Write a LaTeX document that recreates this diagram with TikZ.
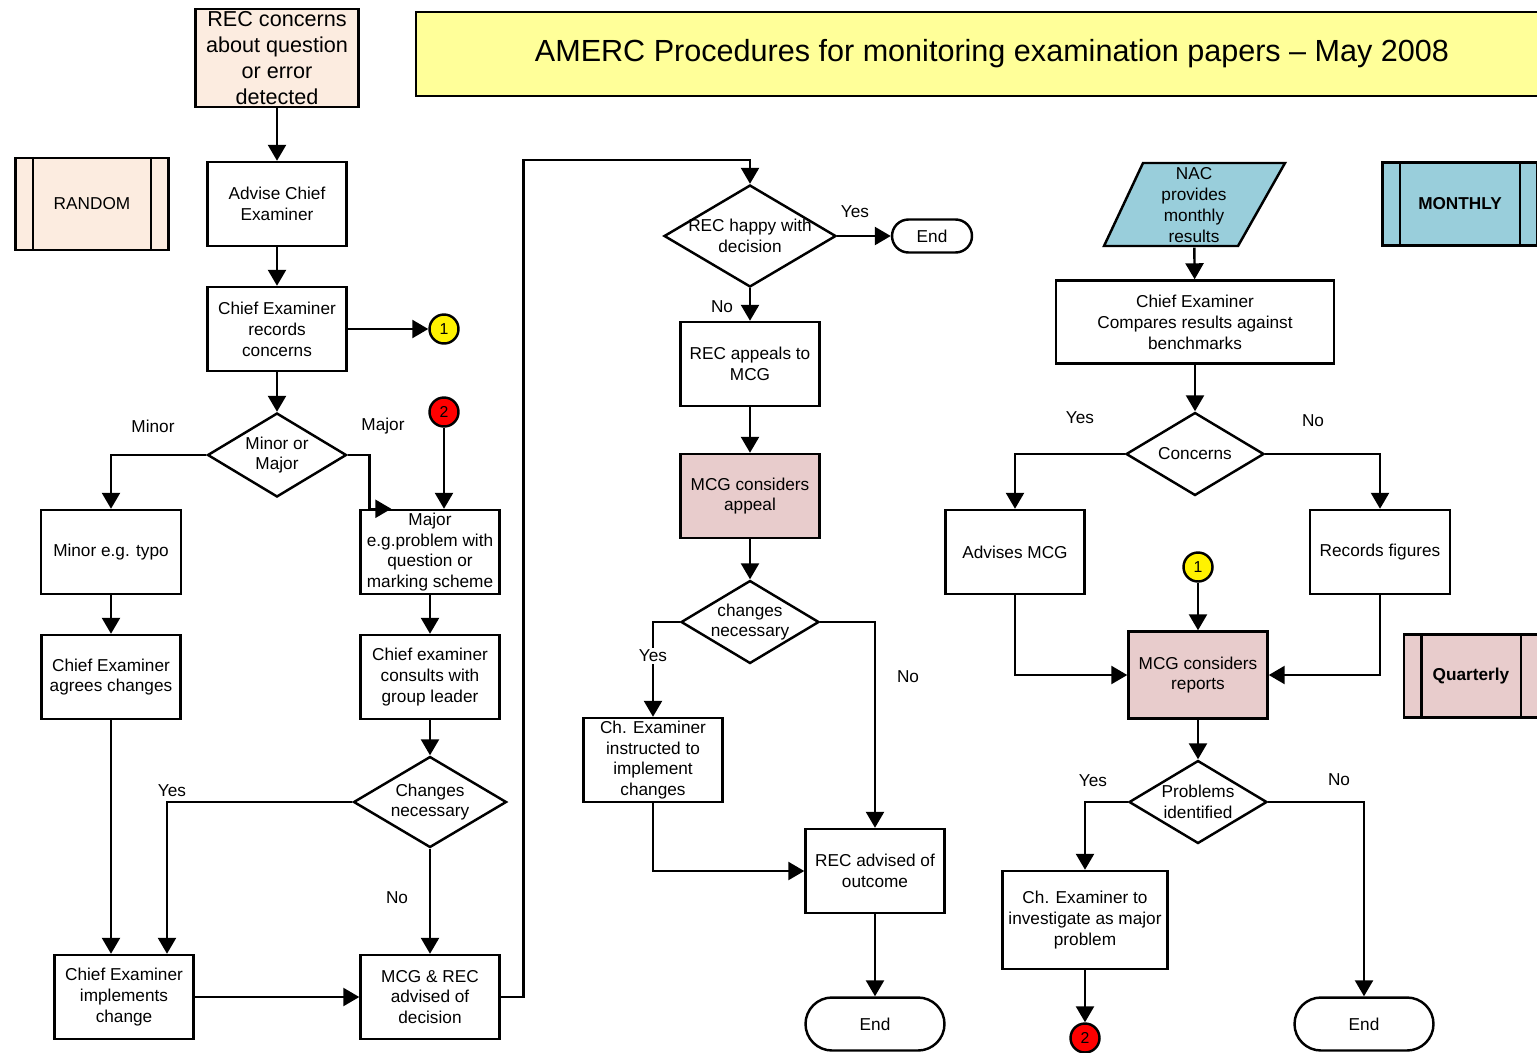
\documentclass[tikz,border=0pt]{standalone}
\usepackage{fontspec}
\setmainfont{Liberation Sans}
\usetikzlibrary{shapes.geometric,arrows.meta}
\definecolor{peach}{RGB}{252,236,224}
\definecolor{titleyellow}{RGB}{255,255,153}
\definecolor{mcgpink}{RGB}{232,204,204}
\definecolor{nacblue}{RGB}{153,206,219}
\begin{document}
\fontsize{9.8}{11.9}\selectfont
\begin{tikzpicture}[x=0.02cm,y=-0.02cm,line width=1.4pt,
    box/.style={draw,rectangle,align=center,inner sep=0pt,minimum width=2.78cm,minimum height=1.68cm},
    dec/.style={draw,diamond,inner sep=0pt,minimum width=2.76cm,minimum height=1.66cm},
    term/.style={draw,rectangle,rounded corners=0.53cm,minimum width=2.78cm,minimum height=1.06cm},
    conn/.style={draw,circle,inner sep=0pt,minimum size=0.58cm,font=\fontsize{9}{10}\selectfont},
    tag/.style={draw,rectangle,minimum width=3.06cm,minimum height=1.66cm},
    arr/.style={-{Triangle[length=0.32cm,width=0.36cm]}},
    lbl/.style={inner sep=1pt}]
    \clip (0,0) rectangle (1537,1052);

    % Title
    \node[box,fill=titleyellow,minimum width=23.04cm,font=\fontsize{17.4}{20}\selectfont] (title) at (992,54) {AMERC Procedures for monitoring examination papers – May 2008};

    % Random checks (left)
    \node[tag,fill=peach,minimum height=1.84cm] (random) at (92,204) {RANDOM};
    \node[box,fill=peach,minimum width=3.26cm,minimum height=1.96cm,font=\fontsize{12.3}{14.8}\selectfont] (rec) at (277,58) {REC concerns\\about question\\or error\\detected};
    \node[box] (advise) at (277,204) {Advise Chief\\Examiner};
    \node[box] (records) at (277,329) {Chief Examiner\\records\\concerns};
    \node[conn,fill=yellow] (one) at (444,329) {1};
    \node[dec,minimum width=2.78cm,minimum height=1.68cm,label={[align=center]center:Minor or\\Major}] (minmaj) at (277,455) {};
    \node[lbl] (minorlbl) at (153,426) {Minor};
    \node[lbl] (majorlbl) at (383,426) {Major};
    \node[conn,fill=red] (two) at (444,412) {2};
    \node[box,minimum width=2.8cm] (typo) at (111,552) {Minor e.g. typo};
    \node[box] (major) at (430,552) {Major\\e.g.problem with\\question or\\marking scheme};
    \node[box] (agrees) at (111,677) {Chief Examiner\\agrees changes};
    \node[box] (consults) at (430,677) {Chief examiner\\consults with\\group leader};
    \node[dec,minimum width=3.06cm,minimum height=1.82cm,label={[align=center]center:Changes\\necessary}] (chnec) at (430,802) {};
    \node[lbl] (yeslbl) at (172,791) {Yes};
    \node[lbl] (nolbl) at (397,898) {No};
    \node[box] (implements) at (124,997) {Chief Examiner\\implements\\change};
    \node[box] (advised) at (430,997) {MCG \& REC\\advised of\\decision};

    % Appeal (middle)
    \node[dec,minimum width=3.44cm,minimum height=2.04cm,label={[align=center]center:REC happy with\\decision}] (happy) at (750,236) {};
    \node[term,minimum width=1.6cm,minimum height=0.66cm,rounded corners=0.33cm] (end1) at (932,236) {End};
    \node[lbl] (yes2) at (855,212) {Yes};
    \node[lbl] (no2) at (722,307) {No};
    \node[box] (appeals) at (750,364) {REC appeals to\\MCG};
    \node[box,fill=mcgpink] (appeal) at (750,496) {MCG considers\\appeal};
    \node[dec,label={[align=center]center:changes\\necessary}] (chnec2) at (750,622) {};
    \node[box] (instructed) at (653,760) {Ch. Examiner\\instructed to\\implement\\changes};
    \node[lbl] (no3) at (908,677) {No};
    \node[box] (outcome) at (875,871) {REC advised of\\outcome};
    \node[term] (end2) at (875,1024) {End};

    % Monthly results (right)
    \filldraw[fill=nacblue] (1143,163) -- (1285,163) -- (1238,246) -- (1104,246) -- cycle;
    \node[align=center,inner sep=0pt,minimum width=2.76cm,minimum height=1.66cm] (nac) at (1194,205) {NAC\\provides\\monthly\\results};
    \node[tag,fill=nacblue,minimum width=3.1cm,font=\bfseries] (monthly) at (1460,204) {MONTHLY};
    \node[box,minimum width=5.56cm,minimum height=1.66cm] (compares) at (1195,322) {Chief Examiner\\Compares results against\\benchmarks};
    \node[dec,label={[align=center]center:Concerns}] (concerns) at (1195,454) {};
    \node[lbl] (yes4) at (1080,418) {Yes};
    \node[lbl] (no4) at (1313,421) {No};
    \node[box] (advmcg) at (1015,552) {Advises MCG};
    \node[box,minimum width=2.8cm] (figures) at (1380,552) {Records figures};
    \node[conn,fill=yellow] (one2) at (1198,567) {1};
    \node[box,fill=mcgpink,minimum height=1.74cm] (reports) at (1198,675) {MCG considers\\reports};
    \node[tag,fill=mcgpink,minimum width=2.68cm,font=\bfseries] (quarterly) at (1471,676) {Quarterly};
    \node[dec,label={[align=center]center:Problems\\identified}] (problems) at (1198,802) {};
    \node[lbl] (yes5) at (1093,781) {Yes};
    \node[lbl] (no5) at (1339,780) {No};
    \node[box,minimum width=3.3cm,minimum height=1.96cm] (investigate) at (1085,920) {Ch. Examiner to\\investigate as major\\problem};
    \node[conn,fill=red] (two2) at (1085,1038) {2};
    \node[term] (end3) at (1364,1024) {End};

    % Side bars of the period boxes
    \foreach \t in {random,monthly,quarterly}{
      \draw ([xshift=0.37cm]\t.north west) -- ([xshift=0.37cm]\t.south west);
      \draw ([xshift=-0.37cm]\t.north east) -- ([xshift=-0.37cm]\t.south east);
    }

    % Connectors, left
    \draw[arr] (rec) -- (advise);
    \draw[arr] (advise) -- (records);
    \draw[arr] (records) -- (one);
    \draw[arr] (records) -- (minmaj);
    \draw[arr] (minmaj.west) -| (typo.north);
    \draw[arr] (minmaj.east) -| ([xshift=0.2cm]major.north west) -- ([xshift=0.64cm]major.north west);
    \draw[arr] (two) -- (major.north -| two);
    \draw[arr] (typo) -- (agrees);
    \draw[arr] (major) -- (consults);
    \draw[arr] (consults) -- (chnec);
    \draw[arr] (agrees) -- (implements.north -| agrees);
    \draw[arr] (chnec.west) -| ([xshift=0.86cm]implements.north);
    \draw[arr] (chnec) -- (advised);
    \draw[arr] (implements) -- (advised);
    \draw[arr] (advised.east) -- ++(23,0) |- ([yshift=0.48cm]happy.north) -- (happy.north);

    % Connectors, middle
    \draw[arr] (happy) -- (end1);
    \draw[arr] (happy) -- (appeals);
    \draw[arr] (appeals) -- (appeal);
    \draw[arr] (appeal) -- (chnec2);
    \draw[arr] (chnec2.west) -| (instructed.north);
    \draw[arr] (chnec2.east) -| (outcome.north);
    \draw[arr] (instructed.south) |- (outcome.west);
    \draw[arr] (outcome) -- (end2);
    \node[lbl,fill=white] (yes3) at (653,656) {Yes};

    % Connectors, right
    \draw[arr] (nac) -- (compares);
    \draw[arr] (compares) -- (concerns);
    \draw[arr] (concerns.west) -| (advmcg.north);
    \draw[arr] (concerns.east) -| (figures.north);
    \draw[arr] (one2) -- (reports);
    \draw[arr] (advmcg.south) |- (reports.west);
    \draw[arr] (figures.south) |- (reports.east);
    \draw[arr] (reports) -- (problems);
    \draw[arr] (problems.west) -| (investigate.north);
    \draw[arr] (problems.east) -| (end3.north);
    \draw[arr] (investigate) -- (two2);
\end{tikzpicture}
\end{document}
